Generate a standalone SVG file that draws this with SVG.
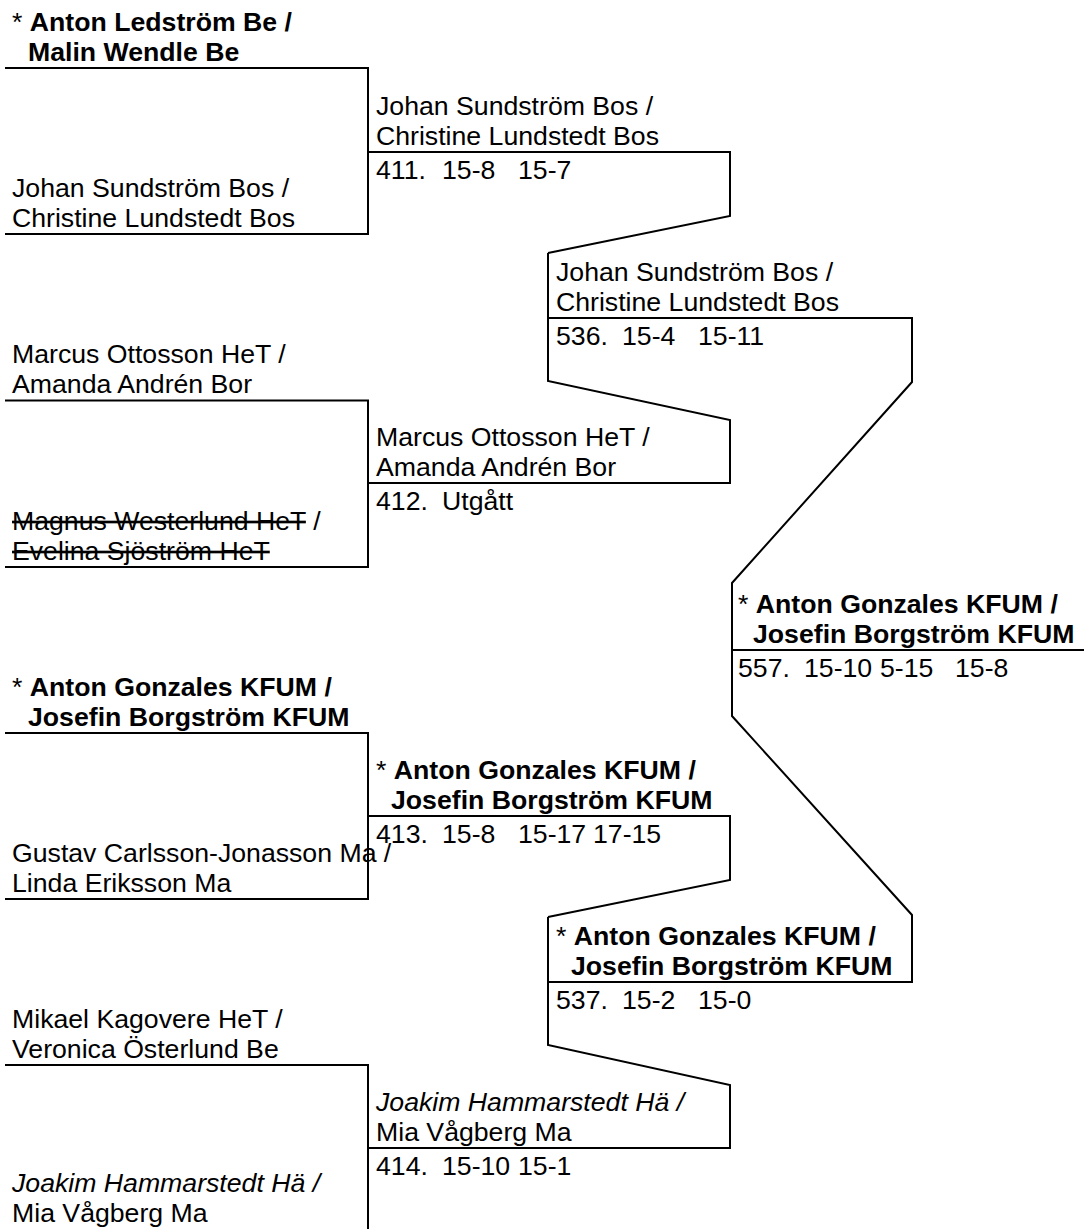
<svg xmlns="http://www.w3.org/2000/svg" width="1084" height="1229" viewBox="0 0 1084 1229">
<style>
text{font-family:"Liberation Sans",Arial,sans-serif;font-size:26.67px;fill:#000}
.b{font-weight:bold}
.i{font-style:italic}
.s{text-decoration:line-through}
.ln{fill:none;stroke:#000;stroke-width:2}
</style>
<rect width="1084" height="1229" fill="#fff"/>
<g id="connectors">
<path class="ln" d="M5,68 H368 V234 H5"/>
<path class="ln" d="M5,400.5 H368 V567 H5"/>
<path class="ln" d="M5,733 H368 V899 H5"/>
<path class="ln" d="M5,1065 H368 V1231 H5"/>
<path class="ln" d="M368,152 H730 V216 L548,253"/>
<path class="ln" d="M548,253 V381 L730,420 V483 H368"/>
<path class="ln" d="M368,816 H730 V880 L548,917"/>
<path class="ln" d="M548,917 V1045 L730,1085 V1148 H368"/>
<path class="ln" d="M548,318 H912 V382 L732,583 V716 L912,915 V982 H548"/>
<path class="ln" d="M732,650 H1084"/>
</g>
<g id="r1-1">
<text x="12" y="31">* <tspan class="b">Anton Ledström Be /</tspan></text>
<text x="28" y="61" class="b">Malin Wendle Be</text>
</g>
<g id="r1-2">
<text x="12" y="197">Johan Sundström Bos /</text>
<text x="12" y="227">Christine Lundstedt Bos</text>
</g>
<g id="r1-3">
<text x="12" y="363">Marcus Ottosson HeT /</text>
<text x="12" y="393">Amanda Andrén Bor</text>
</g>
<g id="r1-4">
<text x="12" y="530"><tspan class="s">Magnus Westerlund HeT</tspan> /</text>
<text x="12" y="560" class="s">Evelina Sjöström HeT</text>
</g>
<g id="r1-5">
<text x="12" y="696">* <tspan class="b">Anton Gonzales KFUM /</tspan></text>
<text x="28" y="726" class="b">Josefin Borgström KFUM</text>
</g>
<g id="r1-6">
<text x="12" y="862">Gustav Carlsson-Jonasson Ma /</text>
<text x="12" y="892">Linda Eriksson Ma</text>
</g>
<g id="r1-7">
<text x="12" y="1028">Mikael Kagovere HeT /</text>
<text x="12" y="1058">Veronica Österlund Be</text>
</g>
<g id="r1-8">
<text x="12" y="1192" class="i">Joakim Hammarstedt Hä /</text>
<text x="12" y="1222">Mia Vågberg Ma</text>
</g>
<g id="m411">
<text x="376" y="115">Johan Sundström Bos /</text>
<text x="376" y="145">Christine Lundstedt Bos</text>
<text y="179"><tspan x="376">411.</tspan><tspan x="442">15-8</tspan><tspan x="518">15-7</tspan></text>
</g>
<g id="m412">
<text x="376" y="446">Marcus Ottosson HeT /</text>
<text x="376" y="476">Amanda Andrén Bor</text>
<text y="510"><tspan x="376">412.</tspan><tspan x="442">Utgått</tspan></text>
</g>
<g id="m413">
<text x="376" y="779">* <tspan class="b">Anton Gonzales KFUM /</tspan></text>
<text x="391" y="809" class="b">Josefin Borgström KFUM</text>
<text y="843"><tspan x="376">413.</tspan><tspan x="442">15-8</tspan><tspan x="518">15-17</tspan><tspan x="593">17-15</tspan></text>
</g>
<g id="m414">
<text x="376" y="1111" class="i">Joakim Hammarstedt Hä /</text>
<text x="376" y="1141">Mia Vågberg Ma</text>
<text y="1175"><tspan x="376">414.</tspan><tspan x="442">15-10</tspan><tspan x="518">15-1</tspan></text>
</g>
<g id="m536">
<text x="556" y="281">Johan Sundström Bos /</text>
<text x="556" y="311">Christine Lundstedt Bos</text>
<text y="345"><tspan x="556">536.</tspan><tspan x="622">15-4</tspan><tspan x="698">15-11</tspan></text>
</g>
<g id="m537">
<text x="556" y="945">* <tspan class="b">Anton Gonzales KFUM /</tspan></text>
<text x="571" y="975" class="b">Josefin Borgström KFUM</text>
<text y="1009"><tspan x="556">537.</tspan><tspan x="622">15-2</tspan><tspan x="698">15-0</tspan></text>
</g>
<g id="m557">
<text x="738" y="613">* <tspan class="b">Anton Gonzales KFUM /</tspan></text>
<text x="753" y="643" class="b">Josefin Borgström KFUM</text>
<text y="677"><tspan x="738">557.</tspan><tspan x="804">15-10</tspan><tspan x="880">5-15</tspan><tspan x="955">15-8</tspan></text>
</g>
</svg>
